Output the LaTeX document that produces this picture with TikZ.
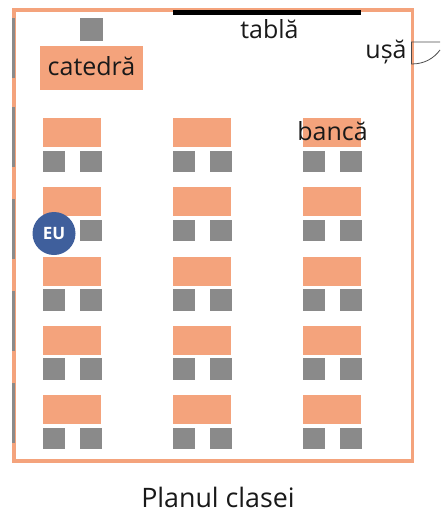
\documentclass[tikz,border=0pt]{standalone}
\usepackage{fontspec}
\setmainfont{Open Sans}
\definecolor{wallor}{HTML}{F4A37C}
\definecolor{seatgr}{HTML}{8A8A8A}
\definecolor{eublue}{HTML}{3F5F9C}
\tikzset{
  px/.style={x=1pt,y=-1pt},
  desk/.style={fill=wallor,draw=none},
  seat/.style={fill=seatgr,draw=none},
  lbl/.style={text=black!90,inner sep=0pt,anchor=base,font=\fontsize{25}{28}\selectfont}
}
\begin{document}
\begin{tikzpicture}[px]
\useasboundingbox (0,0) rectangle (440,511);
% walls
\fill[wallor] (11.5,8) rectangle (414,12);
\fill[wallor] (11.5,459) rectangle (414,463);
\fill[wallor] (11.5,8) rectangle (15.5,463);
\fill[wallor] (410.5,8) rectangle (414,463);
% windows
\foreach \a/\b in {18/78,107/167,199/259,291/351,383/443}
  \fill[seatgr] (12,\a) rectangle (15.3,\b);
% board
\fill[black] (173,10.5) rectangle (361,15.5);
% teacher
\fill[seat] (80,18.5) rectangle (103,41);
\fill[desk] (40,46) rectangle (143,90);
% desks
\foreach \x in {43,173,303}
  \foreach \y in {118,187.3,256.5,325.8,395}{
    \fill[desk] (\x,\y) rectangle +(58,29);
    \fill[seat] (\x,\y+32.5) rectangle +(22,21.5);
    \fill[seat] (\x+36.5,\y+32.5) rectangle +(22,21.5);
  }
% door
\draw[black!70,line width=.8pt] (440,42) -- (411.5,42) -- (411.5,64) .. controls (425,64) and (434,58) .. (440,50);
% EU
\node[circle,fill=eublue,draw=none,minimum size=43pt,inner sep=0pt,text=white,font=\fontsize{17}{17}\selectfont\bfseries] (eu) at (54,233.5) {EU};
% labels
\node[lbl] (catedra) at (91.5,75) {catedră};
\node[lbl] (tabla) at (269.5,38) {tablă};
\node[lbl] (usa) at (386,59) {ușă};
\node[lbl] (banca) at (332.5,140) {bancă};
\node[lbl,font=\fontsize{26.8}{28}\selectfont,text depth=0pt] (titlu) at (218,507) {Planul clasei};
\end{tikzpicture}
\end{document}
